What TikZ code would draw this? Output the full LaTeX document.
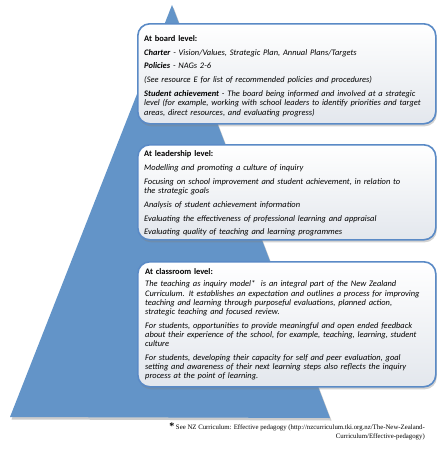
\documentclass[tikz,border=0pt]{standalone}
\usepackage{fontspec}
\setmainfont{Carlito}
\newfontfamily\footfont{Liberation Serif}
\usetikzlibrary{shadows}
\definecolor{pyr}{HTML}{6394C8}
\definecolor{boxline}{HTML}{5A8AC6}
\definecolor{boxbot}{HTML}{E3E7ED}
\begin{document}
\begin{tikzpicture}[x=1pt,y=1pt,
  lvlbox/.style={draw=boxline, line width=1.6pt, rounded corners=12pt,
    top color=white, bottom color=boxbot,
    drop shadow={shadow xshift=1pt, shadow yshift=-2.5pt, opacity=0.35},
    minimum width=298pt, anchor=north west, inner sep=0pt},
  lvltext/.style={anchor=north west, inner sep=0pt, align=left, text width=320pt,
    font=\fontsize{8.45}{9.2}\selectfont\itshape}]
\useasboundingbox (0,0) rectangle (444,-464);
\fill[white] (0,0) rectangle (444,-464);
\coordinate (apex) at (172,-5);
\coordinate (bl) at (10,-417);
\coordinate (br) at (330,-418);
\fill[pyr, drop shadow={shadow xshift=1.5pt, shadow yshift=-2.5pt, opacity=0.4}] (apex) -- (br) -- (bl) -- cycle;

\node[lvlbox, minimum height=100pt] (board) at (137,-23) {};
\node[lvlbox, minimum height=95pt] (lead) at (137,-144) {};
\node[lvlbox, minimum height=125pt] (class) at (137,-261) {};

\node[lvltext] (boardtxt) at ([xshift=7pt,yshift=-12pt]board.north west) {%
{\upshape\bfseries At board level:}\\[4.7pt]
\textbf{Charter} - Vision/Values, Strategic Plan, Annual Plans/Targets\\[4.7pt]
\textbf{Policies} - NAGs 2-6\\[4.7pt]
(See resource E for list of recommended policies and procedures)\\[4.7pt]
\textbf{Student achievement} - The board being informed and involved at a strategic\\
level (for example, working with school leaders to identify priorities and target\\
areas, direct resources, and evaluating progress)};

\node[lvltext] (leadtxt) at ([xshift=7pt,yshift=-6.5pt]lead.north west) {%
{\upshape\bfseries At leadership level:}\\[4.6pt]
Modelling and promoting a culture of inquiry\\[4.6pt]
Focusing on school improvement and student achievement, in relation to\\
the strategic goals\\[4.6pt]
Analysis of student achievement information\\[4.6pt]
Evaluating the effectiveness of professional learning and appraisal\\[4.6pt]
Evaluating quality of teaching and learning programmes};

\node[lvltext] (classtxt) at ([xshift=8pt,yshift=-7.5pt]class.north west) {%
{\upshape\bfseries At classroom level:}\\[3pt]
The teaching as inquiry model*\ \ is an integral part of the New Zealand\\
Curriculum. It establishes an expectation and outlines a process for improving\\
teaching and learning through purposeful evaluations, planned action,\\
strategic teaching and focused review.\\[4.4pt]
For students, opportunities to provide meaningful and open ended feedback\\
about their experience of the school, for example, teaching, learning, student\\
culture\\[4.4pt]
For students, developing their capacity for self and peer evaluation, goal\\
setting and awareness of their next learning steps also reflects the inquiry\\
process at the point of learning.};

\node[anchor=north east, inner sep=0pt, align=right,
  font=\footfont\fontsize{6.8}{9}\selectfont] (foot) at (425,-423) {%
{\bfseries\fontsize{10}{9}\selectfont *} See NZ Curriculum: Effective pedagogy (http://nzcurriculum.tki.org.nz/The-New-Zealand-\\
Curriculum/Effective-pedagogy)};
\end{tikzpicture}
\end{document}
